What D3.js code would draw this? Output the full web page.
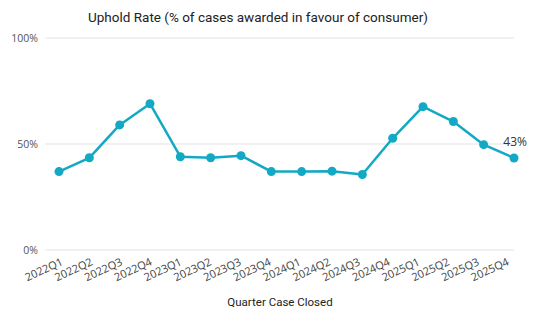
<!DOCTYPE html>
<html><head><meta charset="utf-8">
<script src="https://cdn.jsdelivr.net/npm/d3@7"></script>
<style>body{margin:0;background:#fff;} svg{display:block;}</style>
</head><body>
<svg id="c" width="535" height="325"></svg>
<script>
const quarters = ["2022Q1","2022Q2","2022Q3","2022Q4","2023Q1","2023Q2","2023Q3","2023Q4","2024Q1","2024Q2","2024Q3","2024Q4","2025Q1","2025Q2","2025Q3","2025Q4"];
const upholdRate = [37, 43.5, 59, 69, 44, 43.5, 44.5, 37, 37, 37.2, 35.6, 52.7, 67.6, 60.6, 49.7, 43.4];
const yTicks = [0, 50, 100];
const lastLabel = "43%";

const svg = d3.select("#c");
const color = "#13A9C4";
const font = "'Open Sans', sans-serif";
const x = d3.scalePoint().domain(quarters).range([59, 514]);
const y = d3.scaleLinear().domain([0, 100]).range([250, 38]);

svg.append("text").attr("x", 258).attr("y", 22).attr("text-anchor", "middle")
  .attr("font-family", "Roboto, sans-serif").attr("font-size", 13.5).attr("fill", "#222")
  .text("Uphold Rate (% of cases awarded in favour of consumer)");

const grid = svg.append("g");
yTicks.forEach(t => {
  grid.append("line").attr("x1", 45).attr("x2", 514).attr("y1", y(t)).attr("y2", y(t))
    .attr("stroke", "#e3e3e3").attr("stroke-width", 1);
  grid.append("text").attr("x", 38).attr("y", y(t)).attr("dy", "0.35em").attr("text-anchor", "end")
    .attr("font-family", font).attr("font-size", 10.5).attr("fill", "#555").text(t + "%");
});

const xAxis = svg.append("g");
quarters.forEach((q, i) => {
  xAxis.append("text").attr("transform", `translate(${x(q) + 3 - i * 0.6},${261}) rotate(-25)`)
    .attr("text-anchor", "end").attr("dy", "0.35em")
    .attr("font-family", font).attr("font-size", 11).attr("fill", "#444").text(q);
});

svg.append("text").attr("x", 280).attr("y", 306).attr("text-anchor", "middle")
  .attr("font-family", "Roboto, sans-serif").attr("font-size", 11.5).attr("fill", "#222")
  .text("Quarter Case Closed");

const line = d3.line().x((d, i) => x(quarters[i])).y(d => y(d));
svg.append("path").datum(upholdRate).attr("d", line).attr("fill", "none")
  .attr("stroke", color).attr("stroke-width", 2.5).attr("stroke-linejoin", "round");
svg.selectAll("circle.p").data(upholdRate).enter().append("circle")
  .attr("cx", (d, i) => x(quarters[i])).attr("cy", d => y(d)).attr("r", 4.5).attr("fill", color);

const li = quarters.length - 1;
svg.append("text").attr("x", 527).attr("y", y(upholdRate[li]) - 12)
  .attr("text-anchor", "end").attr("font-family", font).attr("font-size", 12).attr("fill", "#333")
  .text(lastLabel);
</script>
</body></html>
